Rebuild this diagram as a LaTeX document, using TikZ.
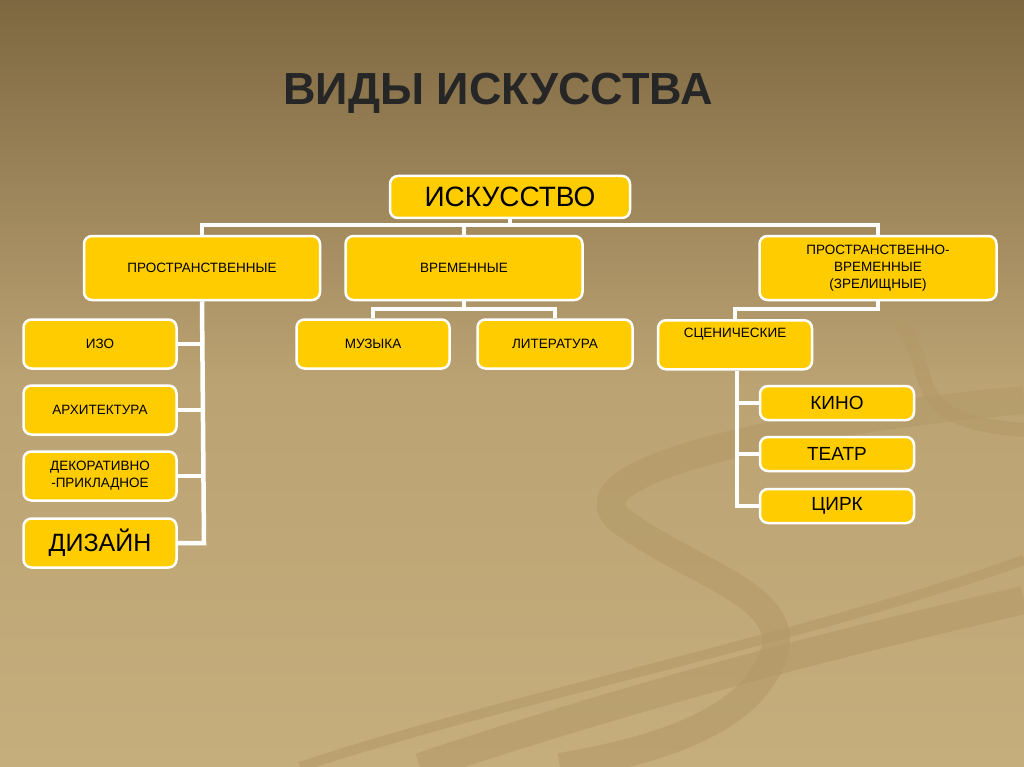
\documentclass[tikz,border=0pt]{standalone}
\usepackage{fontspec}
\setmainfont{Liberation Sans}
\begin{document}
\begin{tikzpicture}[x=1pt,y=-1pt,
 bx/.style={draw=white,line width=2.5pt,fill=boxy,rounded corners=8pt,inner sep=0pt,align=center,font=\fontsize{13.5}{17}\selectfont},
 ln/.style={draw=white,line width=4.5pt}]
\definecolor{boxy}{HTML}{FFCC00}
\definecolor{bgtop}{HTML}{7E6841}
\definecolor{bgbot}{HTML}{C6AD7C}
\definecolor{sw}{HTML}{B39967}
\shade[top color=bgtop,bottom color=bgbot,middle color=bgbot!85!bgtop] (0,0) rectangle (1024,767);
\useasboundingbox (0,0) rectangle (1024,767);
% decorative swirls
\begin{scope}[line width=28pt,draw=sw,opacity=0.6]
\draw (1024,400) .. controls (800,420) and (560,470) .. (620,520) .. controls (700,580) and (820,600) .. (760,680) .. controls (720,740) and (600,760) .. (560,767);
\draw (1024,600) .. controls (850,640) and (650,690) .. (420,767);
\draw[line width=14pt] (900,320) .. controls (940,380) and (900,420) .. (1024,430);
\draw[line width=10pt] (300,767) .. controls (500,700) and (800,640) .. (1024,560);
\end{scope}
\node[font=\fontsize{45}{50}\selectfont\bfseries,text=black!85] (t) at (498,93) {ВИДЫ ИСКУССТВА};
% boxes
\node[bx,minimum width=240,minimum height=42,font=\fontsize{28}{32}\selectfont] (a) at (510,197) {ИСКУССТВО};
\node[bx,minimum width=236,minimum height=64] (p) at (202,268) {ПРОСТРАНСТВЕННЫЕ};
\node[bx,minimum width=237,minimum height=64] (v) at (464,268) {ВРЕМЕННЫЕ};
\node[bx,minimum width=237,minimum height=64] (pv) at (878,268) {ПРОСТРАНСТВЕННО-\\ВРЕМЕННЫЕ\\(ЗРЕЛИЩНЫЕ)};
\node[bx,minimum width=153,minimum height=49] (izo) at (100,344) {ИЗО};
\node[bx,minimum width=153,minimum height=49] (arh) at (100,410) {АРХИТЕКТУРА};
\node[bx,minimum width=153,minimum height=49] (dek) at (100,476) {ДЕКОРАТИВНО\\-ПРИКЛАДНОЕ};
\node[bx,minimum width=153,minimum height=49,font=\fontsize{25}{29}\selectfont] (diz) at (100,543) {ДИЗАЙН};
\node[bx,minimum width=153,minimum height=49] (muz) at (373,344) {МУЗЫКА};
\node[bx,minimum width=155,minimum height=49] (lit) at (555,344) {ЛИТЕРАТУРА};
\node[bx,minimum width=154,minimum height=49,anchor=north] (sc) at (735,319) {};
\node[font=\fontsize{13.5}{17}\selectfont,anchor=north] (sct) at (735,325) {СЦЕНИЧЕСКИЕ};
\node[bx,minimum width=154,minimum height=34,font=\fontsize{19}{22}\selectfont] (kino) at (837,403) {КИНО};
\node[bx,minimum width=154,minimum height=34,font=\fontsize{19}{22}\selectfont] (teatr) at (837,454) {ТЕАТР};
\node[bx,minimum width=154,minimum height=34,font=\fontsize{19}{22}\selectfont] (cirk) at (837,506) {ЦИРК};
% connectors
\coordinate (h1) at (510,225);
\draw[ln] (a.south) -- (h1);
\draw[ln] (p.north) |- (h1) -| (pv.north);
\draw[ln] (v.north) -- (v.north |- h1);
\coordinate (lb) at (204,543);
\draw[ln] (p.south) -- (lb) -- (diz.east);
\draw[ln] (izo.east) -- (izo.east -| lb);
\draw[ln] (arh.east) -- (arh.east -| lb);
\draw[ln] (dek.east) -- (dek.east -| lb);
\coordinate (m1) at (464,309);
\draw[ln] (v.south) -- (m1);
\draw[ln] (muz.north) |- (m1) -| (lit.north);
\coordinate (r1) at (878,309);
\draw[ln] (pv.south) -- (r1) -| (sc.north);
\coordinate (rb) at (737,506);
\draw[ln] (sc.south -| rb) -- (rb) -- (cirk.west);
\draw[ln] (kino.west) -- (kino.west -| rb);
\draw[ln] (teatr.west) -- (teatr.west -| rb);
\end{tikzpicture}
\end{document}
